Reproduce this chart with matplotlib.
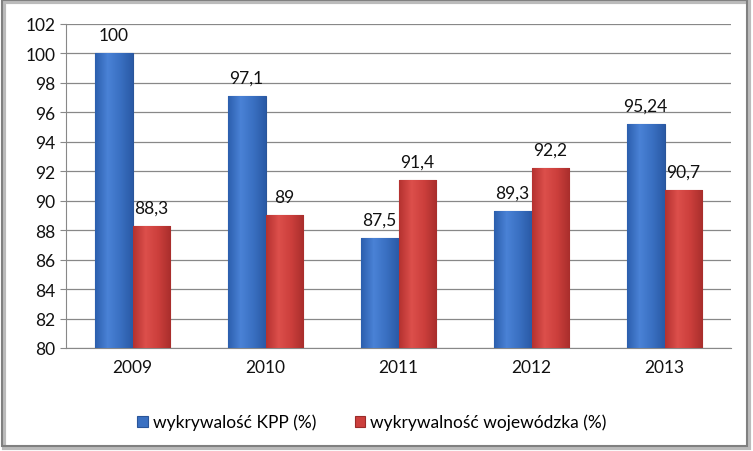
import matplotlib
matplotlib.use("Agg")
import matplotlib.pyplot as plt
import numpy as np
from matplotlib.patches import Rectangle
from matplotlib.colors import LinearSegmentedColormap

plt.rcParams['font.family'] = ['Lato', 'DejaVu Sans']

years = ['2009', '2010', '2011', '2012', '2013']
kpp = [100, 97.1, 87.5, 89.3, 95.24]
woj = [88.3, 89, 91.4, 92.2, 90.7]
kpp_labels = ['100', '97,1', '87,5', '89,3', '95,24']
woj_labels = ['88,3', '89', '91,4', '92,2', '90,7']
series_names = ['wykrywalość KPP (%)', 'wykrywalność wojewódzka (%)']

fig = plt.figure(figsize=(7.53, 4.52), dpi=100)
ax = fig.add_axes([66/753, 1-349/452, (731-66)/753, (349-25)/452])

x = np.arange(len(years))
w = 0.285
blue = '#3A70C2'
red = '#CC3F3C'
b1 = ax.bar(x - w/2, [v - 80 for v in kpp], w, bottom=80, color=blue,
            edgecolor='#2A5599', linewidth=0.8, label=series_names[0], zorder=3)
b2 = ax.bar(x + w/2, [v - 80 for v in woj], w, bottom=80, color=red,
            edgecolor='#9A2C2A', linewidth=0.8, label=series_names[1], zorder=3)

cmap_b = LinearSegmentedColormap.from_list('b', ['#2C5FAE', '#4A82D6', '#3A70C2', '#2A5AA6'])
cmap_r = LinearSegmentedColormap.from_list('r', ['#B53230', '#DC4F4B', '#CC3F3C', '#A92E2C'])
grad = np.linspace(0, 1, 64).reshape(1, -1)
for bars, cm in ((b1, cmap_b), (b2, cmap_r)):
    for p in bars:
        x0, y0 = p.get_x(), p.get_y()
        im = ax.imshow(grad, cmap=cm, aspect='auto', zorder=3.5,
                       extent=(x0, x0 + p.get_width(), y0, y0 + p.get_height()))
        im.set_clip_path(p)

for xi, v, t in zip(x - w/2, kpp, kpp_labels):
    ax.text(xi, v + 0.7, t, ha='center', va='bottom', fontsize=12.5, color='#111111')
for xi, v, t in zip(x + w/2, woj, woj_labels):
    ax.text(xi, v + 0.7, t, ha='center', va='bottom', fontsize=12.5, color='#111111')

ax.set_ylim(80, 102)
ax.set_yticks(np.arange(80, 103, 2))
ax.set_xlim(-0.5, 4.5)
ax.set_xticks(x)
ax.set_xticklabels(years)
ax.tick_params(axis='both', labelsize=12.5, length=4, color='#888888', colors='#111111')
ax.tick_params(axis='x', length=0, pad=8)
ax.yaxis.grid(True, color='#888888', linewidth=0.9, zorder=0)
for s in ['top', 'right']:
    ax.spines[s].set_visible(False)
ax.spines['left'].set_color('#888888')
ax.spines['bottom'].set_color('#888888')
ax.set_axisbelow(True)

leg = fig.legend(handles=[b1, b2], labels=series_names, loc='center',
                 bbox_to_anchor=(372/753, 1-423/452), ncol=2, frameon=False,
                 fontsize=12.5, handlelength=0.6, handleheight=0.6,
                 handletextpad=0.3, columnspacing=2.2)

# outer frame with shadow
fig.patches.append(Rectangle((4/753, 3/452), 745/753, 446/452, transform=fig.transFigure,
                             fill=False, edgecolor='#BBBBBB', linewidth=3, zorder=0))
fig.patches.append(Rectangle((2/753, 5/452), 745/753, 446/452, transform=fig.transFigure,
                             fill=False, edgecolor='#808080', linewidth=1.5, zorder=1))

fig.savefig('out.png', dpi=100)
